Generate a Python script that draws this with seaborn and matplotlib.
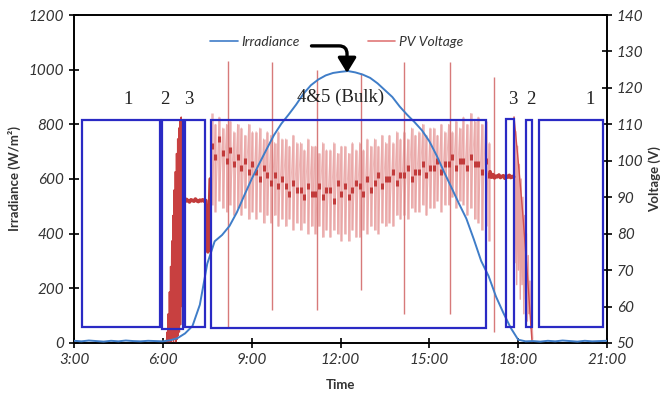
import numpy as np
import matplotlib
matplotlib.use("Agg")
import matplotlib.pyplot as plt
from matplotlib.patches import Rectangle
from matplotlib.lines import Line2D
import seaborn as sns

# ---------------- data ----------------
irr_step = 0.25
irr_vals = [8, 6, 9, 7, 5, 8, 6, 9, 7, 6, 8, 7,
            6, 10, 18, 35, 62, 140, 290, 372, 395, 428, 478, 540,
            600, 655, 708, 760, 802, 836, 872, 912, 943, 964, 979, 988,
            992, 995, 990, 982, 970, 950, 925, 900, 865, 835, 808, 778,
            738, 685, 625, 568, 510, 455, 380, 300, 245, 170, 110, 55,
            12, 6,
            7, 5, 8, 6, 9, 7, 5, 8, 6, 7, 8]

# morning transient (hours, volts)
early_t = [6.12, 6.14, 6.16, 6.18, 6.20, 6.22, 6.24, 6.26, 6.28, 6.30,
           6.32, 6.34, 6.36, 6.38, 6.40, 6.42, 6.44, 6.46, 6.48, 6.50,
           6.52, 6.54, 6.56, 6.58, 6.60, 6.62, 6.64, 6.66, 6.68, 6.70]
early_v = [50, 53, 50, 58, 50, 64, 51, 71, 50, 78, 51, 85, 50, 92, 51, 97,
           50, 102, 51, 106, 52, 109, 53, 111, 55, 112, 60, 110, 75, 90]

flat1_t = [6.70, 6.75, 6.80, 6.85, 6.90, 6.95, 7.00, 7.05, 7.10, 7.15,
           7.20, 7.25, 7.30, 7.35, 7.40, 7.45, 7.48, 7.52, 7.56, 7.60]
flat1_v = [89.2, 88.8, 89.4, 89.0, 88.7, 89.3, 89.1, 88.9, 89.5, 89.0,
           88.8, 89.2, 89.0, 89.3, 88.9, 89.1, 84, 75, 82, 95]

# bulk oscillation: start time, step, upper / lower swing and mean marks
osc_start = 7.65
osc_step = 0.125
osc_hi = [113, 110, 112, 109, 110, 111, 108, 110, 109, 107, 110, 108,
          108, 109, 106, 108, 107, 105, 108, 106, 106, 104, 107, 105,
          105, 103, 106, 104, 104, 102, 105, 103, 103, 105, 102, 104,
          104, 102, 105, 103, 105, 103, 106, 104, 106, 104, 107, 105,
          107, 105, 108, 106, 108, 106, 109, 107, 108, 110, 107, 109,
          109, 107, 110, 108, 110, 108, 111, 109, 112, 110, 113, 111,
          112, 110, 111, 105]
osc_lo = [88, 86, 89, 87, 86, 88, 85, 87, 85, 87, 84, 86,
          84, 86, 83, 85, 83, 85, 82, 84, 82, 84, 81, 83,
          81, 83, 80, 82, 80, 82, 79, 81, 79, 81, 80, 78,
          80, 78, 81, 79, 79, 81, 80, 82, 81, 80, 83, 82,
          83, 82, 85, 84, 85, 84, 87, 86, 86, 88, 85, 87,
          87, 89, 86, 88, 88, 90, 87, 89, 88, 85, 87, 84,
          83, 81, 82, 78]
osc_mid = [104, 101, 106, 102, 100, 103, 99, 101, 98, 100, 97, 99,
           97, 95, 98, 96, 94, 96, 93, 95, 93, 91, 94, 92,
           92, 90, 93, 91, 91, 93, 90, 92, 92, 89, 94, 91,
           93, 90, 92, 94, 93, 91, 95, 92, 94, 96, 93, 95,
           95, 97, 94, 96, 96, 98, 95, 97, 97, 99, 96, 98,
           98, 100, 97, 99, 99, 101, 98, 100, 100, 98, 101, 99,
           99, 97, 100, 96]

spike_t = [8.21, 9.68, 11.19, 12.68, 14.16, 15.69, 17.17]
spike_top = [127.5, 127.0, 125.0, 124.0, 127.0, 127.0, 123.0]
spike_bot = [54.5, 59.0, 59.0, 64.5, 58.0, 58.0, 53.0]

flat2_t = [17.05, 17.10, 17.15, 17.20, 17.25, 17.30, 17.35, 17.40, 17.45,
           17.50, 17.55, 17.60, 17.65, 17.70, 17.75, 17.80, 17.85]
flat2_v = [97, 95.5, 96.2, 95.3, 95.8, 95.6, 96.1, 95.4, 95.7,
           95.9, 95.2, 95.8, 95.5, 96.0, 95.4, 95.7, 95.6]

eve_t = [17.86, 17.89, 17.92, 17.95, 17.98, 18.01, 18.04, 18.07, 18.10, 18.13, 18.16,
         18.19, 18.22, 18.25, 18.28, 18.31, 18.34, 18.37, 18.40, 18.43, 18.46, 18.49]
eve_v = [112, 72, 108, 66, 104, 70, 99, 62, 95, 66, 90,
         58, 85, 62, 80, 56, 74, 58, 67, 54, 58, 51]
decl_t = [17.86, 18.00, 18.15, 18.30, 18.47]
decl_v = [112, 100, 86, 70, 50]

# annotation boxes (hours, volts)
box_x0 = [3.27, 5.97, 6.75, 7.63, 17.58, 18.26, 18.71]
box_x1 = [5.91, 6.69, 7.43, 16.92, 17.87, 18.46, 20.86]
box_y0 = [54.3, 53.9, 54.3, 54.2, 54.3, 54.3, 54.3]
box_y1 = [111.3, 111.3, 111.3, 111.3, 111.5, 111.3, 111.1]
box_labels = ["1", "2", "3", "4&5 (Bulk)", "3", "2", "1"]
label_x = [4.82, 6.07, 6.89, 11.99, 17.80, 18.44, 20.43]
label_y = [116.7, 116.7, 116.7, 117.4, 116.7, 116.7, 116.7]

x_ticks = [3, 6, 9, 12, 15, 18, 21]
x_ticklabels = ["3:00", "6:00", "9:00", "12:00", "15:00", "18:00", "21:00"]

# ---------------- style ----------------
sns.set_style("ticks")
plt.rcParams["font.family"] = ["Lato", "DejaVu Sans"]

BLUE = "#3f7dc8"
PINK = "#e9a3a3"
DARKRED = "#c23b3b"
BOXBLUE = "#2a2ac4"

fig = plt.figure(figsize=(6.68, 3.99), dpi=100)
ax = fig.add_axes([0.1108, 0.1404, 0.7979, 0.8220])
ax2 = ax.twinx()
ax.set_zorder(2)
ax.patch.set_visible(False)
ax2.set_zorder(1)

# voltage traces
osc_t = osc_start + osc_step * np.arange(len(osc_hi))
zig_t = np.repeat(osc_t, 2)
zig_v = np.ravel(np.column_stack([osc_hi, osc_lo]))
ax2.vlines(osc_t, osc_lo, osc_hi, color=PINK, lw=1.8, alpha=0.8, zorder=2)
ax2.plot(zig_t[1:] + osc_step / 2 * 0, zig_v[1:], color=PINK, lw=0.7, alpha=0.8, zorder=2)
ax2.vlines(spike_t, spike_bot, spike_top, color="#d77a7a", lw=1.0, zorder=2)
ax2.plot(early_t, early_v, color="#c84040", lw=1.0, zorder=3)
ax2.plot(eve_t, eve_v, color=PINK, lw=1.0, zorder=2)
ax2.plot(decl_t, decl_v, color="#d05050", lw=1.0, zorder=3)
sns.lineplot(x=flat1_t, y=flat1_v, ax=ax2, color=DARKRED, lw=2.6, zorder=3)
sns.lineplot(x=flat2_t, y=flat2_v, ax=ax2, color=DARKRED, lw=2.6, zorder=3)
ax2.plot(osc_t, osc_mid, ls="none", marker="|", ms=5, mew=2.2, color=DARKRED, zorder=3)

# irradiance
irr_t = 3.0 + irr_step * np.arange(len(irr_vals))
sns.lineplot(x=irr_t, y=irr_vals, ax=ax, color=BLUE, lw=1.4, zorder=4)

ax.set_xlim(3, 21)
ax.set_ylim(0, 1200)
ax2.set_ylim(50, 140)

# boxes
for x0, x1, y0, y1 in zip(box_x0, box_x1, box_y0, box_y1):
    r = Rectangle((x0, y0), x1 - x0, y1 - y0, fill=False, ec=BOXBLUE, lw=1.6,
                  transform=ax2.transData, zorder=5)
    ax.add_patch(r)
for lx, ly, s in zip(label_x, label_y, box_labels):
    ax.text(lx, ly, s, transform=ax2.transData, ha="center", va="center",
            fontsize=13.5, family=["Liberation Serif"], color="#222222", zorder=6)

# legend
handles = [Line2D([], [], color=BLUE, lw=1.2), Line2D([], [], color="#e07878", lw=1.2)]
leg = ax.legend(handles, ["Irradiance", "PV Voltage"], ncol=2, frameon=False,
                loc="upper left", bbox_to_anchor=(0.255, 0.935), borderaxespad=0,
                borderpad=0, handlelength=2.0, handletextpad=0.25, columnspacing=4.9,
                prop={"style": "italic", "size": 10})
for t in leg.get_texts():
    t.set_color("#333333")

# arrow
ax.annotate("", xy=(12.22, 988), xytext=(11.02, 1087),
            arrowprops=dict(arrowstyle="-|>,head_length=0.9,head_width=0.55", lw=2.4,
                            color="black",
                            connectionstyle="angle,angleA=0,angleB=90,rad=8",
                            shrinkA=0, shrinkB=0), zorder=7)

# axes formatting
ax.set_xticks(x_ticks)
ax.set_xticklabels(x_ticklabels)
ax.set_yticks([0, 200, 400, 600, 800, 1000, 1200])
ax2.set_yticks([50, 60, 70, 80, 90, 100, 110, 120, 130, 140])
for a in (ax, ax2):
    for sp in a.spines.values():
        sp.set_visible(True)
        sp.set_linewidth(1.2)
        sp.set_color("black")
    a.tick_params(direction="inout", length=7, width=1.2, color="black",
                  labelsize=11, labelcolor="#333333")
    for lab in a.get_xticklabels() + a.get_yticklabels():
        lab.set_fontstyle("italic")
ax2.tick_params(axis="x", length=0)

ax.set_xlabel("Time", fontsize=9.5, fontweight="bold", color="#333333")
ax.set_ylabel("Irradiance (W/m²)", fontsize=9.5, fontweight="bold", color="#333333")
ax2.set_ylabel("Voltage (V)", fontsize=9.5, fontweight="bold", color="#333333")
ax.xaxis.set_label_coords(0.5, -0.11)
ax.yaxis.set_label_coords(-0.10, 0.5)
ax2.yaxis.set_label_coords(1.077, 0.5)

fig.savefig("out.png", dpi=100)
